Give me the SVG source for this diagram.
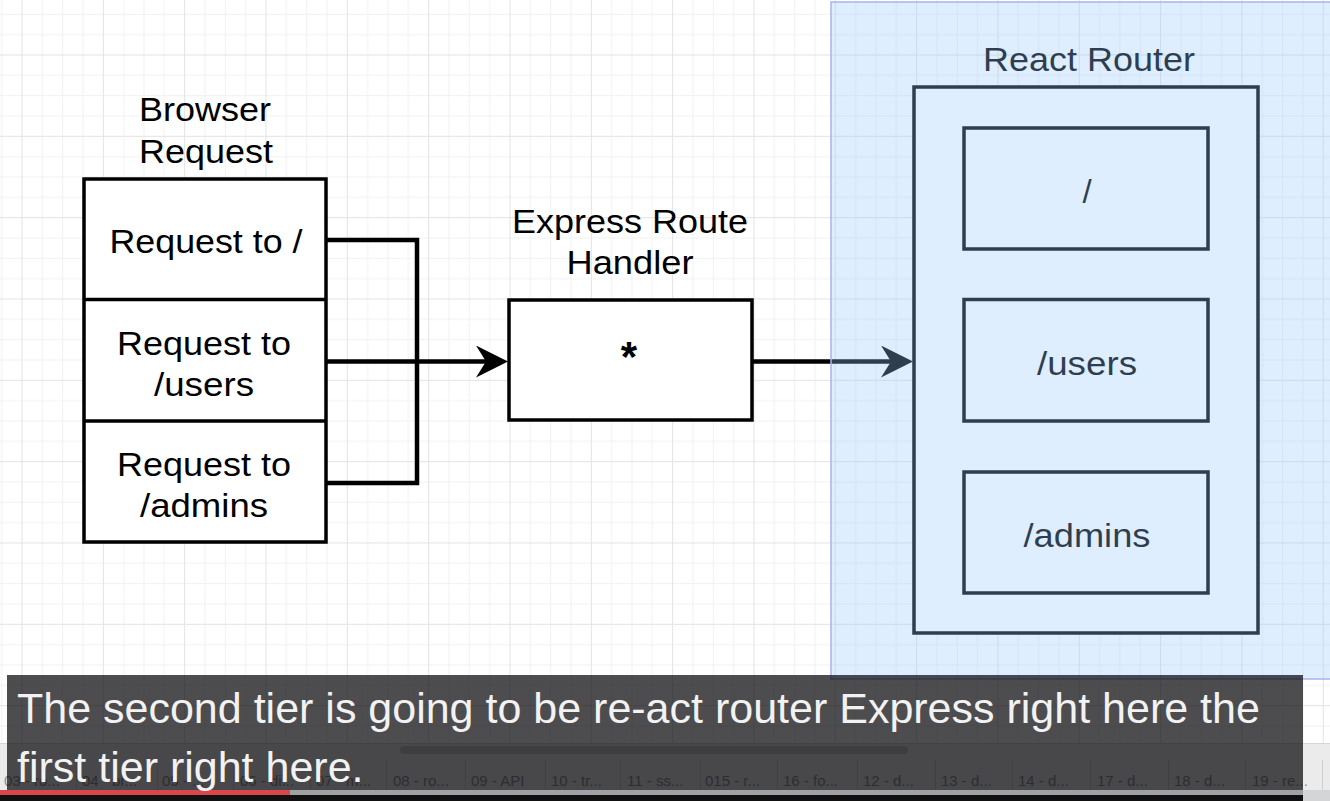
<svg xmlns="http://www.w3.org/2000/svg" width="1330" height="801" viewBox="0 0 1330 801">
<defs>
<style>
.lbl{font-family:"Liberation Sans",Arial,Helvetica,sans-serif;font-size:33px;fill:#000;text-anchor:middle}
.box{fill:#fff;stroke:#000;stroke-width:3.5}
.conn{fill:none;stroke:#000;stroke-width:4.5}
.cap{font-family:"Liberation Sans",Arial,Helvetica,sans-serif;font-size:43px;fill:#f2f2f2}
.tab{font-family:"Liberation Sans",Arial,Helvetica,sans-serif;font-size:15px;fill:#8c8c8c}
.sep{stroke:#cfcfcf;stroke-width:1}
</style>
<pattern id="grid" patternUnits="userSpaceOnUse" x="102.83" y="54.5" width="81.33" height="81.33">
<path d="M20.83,0V81.33M41.17,0V81.33M61.5,0V81.33M0,20.83H81.33M0,41.17H81.33M0,61.5H81.33" stroke="#f1f1f1" stroke-width="1" fill="none"/>
<path d="M0.5,0V81.33M0,0.5H81.33" stroke="#e3e3e3" stroke-width="1" fill="none"/>
</pattern>
<marker id="arr" markerUnits="userSpaceOnUse" markerWidth="32" markerHeight="32" viewBox="0 0 32 32" refX="21" refY="16" orient="auto">
<path d="M0,0 L32,16 L0,32 L10,16 Z" fill="#000"/>
</marker>
</defs>

<rect x="0" y="0" width="1330" height="801" fill="#fff"/>
<rect x="0" y="0" width="1330" height="801" fill="url(#grid)"/>

<g id="connectors">
<path class="conn" d="M327,240 H417 V483 H327"/>
<path class="conn" d="M327,361.5 H497" marker-end="url(#arr)"/>
<path class="conn" d="M752,361.5 H902" marker-end="url(#arr)"/>
</g>

<g id="browser-request">
<text class="lbl" x="205" y="121" textLength="132" lengthAdjust="spacingAndGlyphs">Browser</text>
<text class="lbl" x="206" y="163" textLength="134" lengthAdjust="spacingAndGlyphs">Request</text>
<rect class="box" x="84" y="179" width="242" height="363"/>
<path d="M84,299.5H326M84,421H326" stroke="#000" stroke-width="3.5"/>
<text class="lbl" x="206" y="253" textLength="193" lengthAdjust="spacingAndGlyphs">Request to /</text>
<text class="lbl" x="204" y="355" textLength="174" lengthAdjust="spacingAndGlyphs">Request to</text>
<text class="lbl" x="204" y="396" textLength="100" lengthAdjust="spacingAndGlyphs">/users</text>
<text class="lbl" x="204" y="476" textLength="174" lengthAdjust="spacingAndGlyphs">Request to</text>
<text class="lbl" x="204" y="517" textLength="128" lengthAdjust="spacingAndGlyphs">/admins</text>
</g>

<g id="express-route-handler">
<text class="lbl" x="630" y="233" textLength="236" lengthAdjust="spacingAndGlyphs">Express Route</text>
<text class="lbl" x="630" y="274" textLength="127" lengthAdjust="spacingAndGlyphs">Handler</text>
<rect class="box" x="509" y="300" width="243" height="120"/>
<text class="lbl" x="629" y="371" style="font-size:42px;font-weight:bold">*</text>
</g>

<g id="react-router">
<text class="lbl" x="1089" y="71" textLength="212" lengthAdjust="spacingAndGlyphs">React Router</text>
<rect class="box" x="914" y="87" width="344" height="546"/>
<g id="route-root">
<rect class="box" x="964" y="128" width="244" height="121"/>
<text class="lbl" x="1087" y="203">/</text>
</g>
<g id="route-users">
<rect class="box" x="964" y="299.5" width="244" height="121.5"/>
<text class="lbl" x="1087" y="375" textLength="100" lengthAdjust="spacingAndGlyphs">/users</text>
</g>
<g id="route-admins">
<rect class="box" x="964" y="472" width="244" height="121"/>
<text class="lbl" x="1087" y="547" textLength="127" lengthAdjust="spacingAndGlyphs">/admins</text>
</g>
</g>

<rect id="highlight-panel" x="831" y="2" width="510" height="677" fill="rgb(148,200,255)" fill-opacity="0.31" stroke="#a9b3ef" stroke-width="1.5"/>

<g id="player-ui">
<rect x="0" y="743" width="1330" height="47" fill="#ebebeb"/>
<path d="M0,743.5H1330" stroke="#d6d6d6" stroke-width="1"/>
<rect x="400" y="746" width="508" height="8" rx="4" fill="#c9c9c9"/>
<path class="sep" d="M76.5,760V790M157.5,760V790M233.5,760V790M310.5,760V790M386.5,760V790M465.5,760V790M545.5,760V790M620.5,760V790M700.5,760V790M777.5,760V790M857.5,760V790M935.5,760V790M1012.5,760V790M1090.5,760V790M1168.5,760V790M1245.5,760V790M1322.5,760V790"/>
<text class="tab" x="4" y="786">03 - ro...</text>
<text class="tab" x="82" y="786">04 - br...</text>
<text class="tab" x="162" y="786">05 - ...</text>
<text class="tab" x="240" y="786">06 - di...</text>
<text class="tab" x="316" y="786">07 - m...</text>
<text class="tab" x="393" y="786">08 - ro...</text>
<text class="tab" x="471" y="786">09 - API</text>
<text class="tab" x="551" y="786">10 - tr...</text>
<text class="tab" x="627" y="786">11 - ss...</text>
<text class="tab" x="705" y="786">015 - r...</text>
<text class="tab" x="783" y="786">16 - fo...</text>
<text class="tab" x="863" y="786">12 - d...</text>
<text class="tab" x="941" y="786">13 - d...</text>
<text class="tab" x="1018" y="786">14 - d...</text>
<text class="tab" x="1097" y="786">17 - d...</text>
<text class="tab" x="1174" y="786">18 - d...</text>
<text class="tab" x="1252" y="786">19 - re...</text>
<rect x="0" y="790" width="1330" height="5" fill="#a0a2a6"/>
<rect x="1303" y="790" width="27" height="11" fill="#d4d5d7"/>
<rect x="0" y="790" width="290" height="5" fill="#d9474c"/>
<rect x="0" y="795" width="1303" height="6" fill="#111"/>
</g>

<g id="caption">
<rect x="7" y="675" width="1296" height="115" fill="#08080c" fill-opacity="0.72"/>
<text class="cap" x="17" y="723">The second tier is going to be re-act router Express right here the</text>
<text class="cap" x="17" y="782">first tier right here.</text>
</g>
</svg>
